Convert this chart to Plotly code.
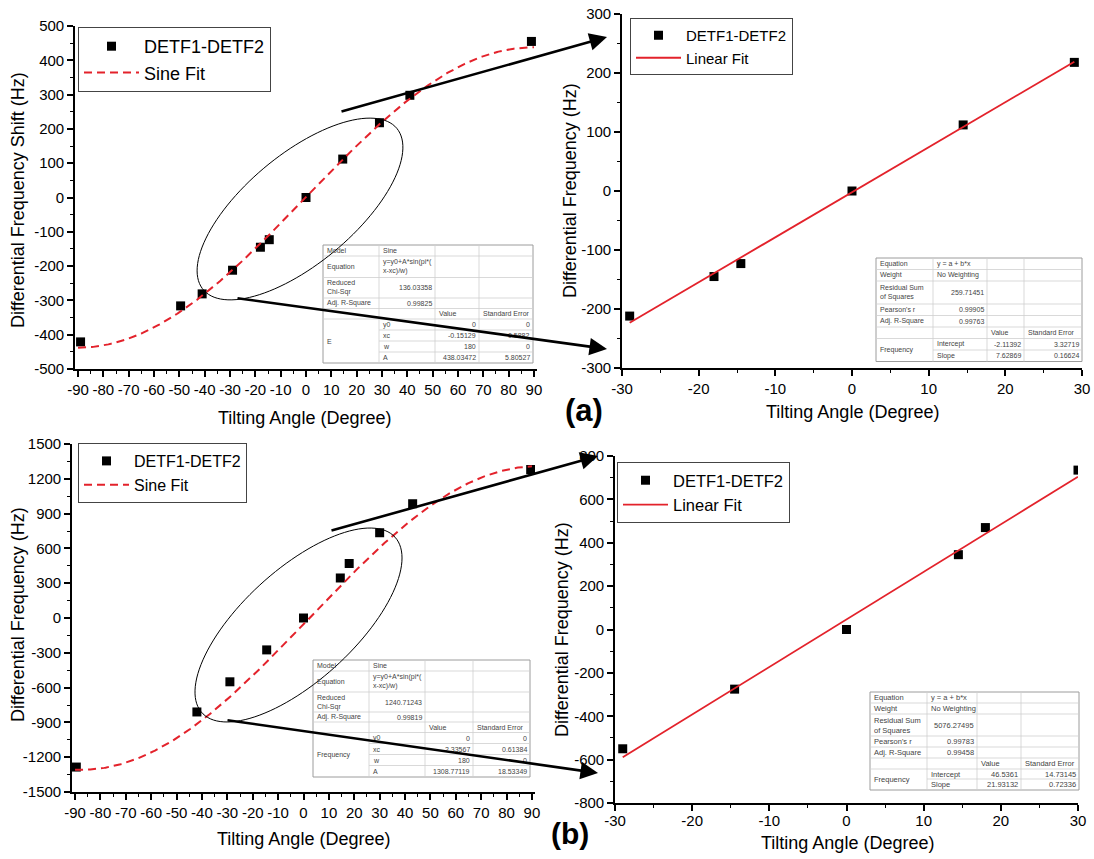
import numpy as np
import plotly.graph_objects as go

W, H = 1094, 859
FONT = "Liberation Sans, Arial, sans-serif"
RED = "#e3222b"

# ---------------- data ----------------
# panel (a) left : full sweep
angle_a = [-89, -49.5, -41, -29, -18, -14.5, 0, 14.5, 29, 41, 89]
shift_a = [-421, -316, -281, -212, -145, -123, 0, 112, 218, 298, 455]
# panel (a) right : linear zone
lin_angle_a = [-29, -18, -14.5, 0, 14.5, 29]
lin_freq_a = [-212, -145, -123, 0, 112, 218]

# panel (b) left : full sweep
angle_b = [-89.5, -42, -29, -14.5, 0, 14.5, 18, 30, 43, 89.5]
freq_b = [-1285, -810, -550, -275, 0, 345, 470, 735, 985, 1280]
# panel (b) right : linear zone
lin_angle_b = [-29, -14.5, 0, 14.5, 18, 30]
lin_freq_b = [-550, -275, 0, 345, 470, 735]

# fit parameters (from the fit tables)
sine_a = dict(y0=0.0, xc=-0.15129, w=180.0, A=438.03472)
sine_b = dict(y0=0.0, xc=2.33567, w=180.0, A=1308.77119)
lin_a = dict(a=-2.11392, b=7.62869)
lin_b = dict(a=46.5361, b=21.93132)

# tick values / labels
full_ticks = [-90, -80, -70, -60, -50, -40, -30, -20, -10, 0, 10, 20, 30, 40, 50, 60, 70, 80, 90]
lin_ticks = [-30, -20, -10, 0, 10, 20, 30]
ya_left_ticks = [-500, -400, -300, -200, -100, 0, 100, 200, 300, 400, 500]
ya_right_ticks = [-300, -200, -100, 0, 100, 200, 300]
yb_left_ticks = [-1500, -1200, -900, -600, -300, 0, 300, 600, 900, 1200, 1500]
yb_right_ticks = [-800, -600, -400, -200, 0, 200, 400, 600, 800]

# fit report tables
sine_top_labels = ["Model", "Equation", "Reduced<br>Chi-Sqr", "Adj. R-Square"]
sine_top_a = ["Sine", "y=y0+A*sin(pi*(<br>x-xc)/w)", "136.03358", "0.99825"]
sine_top_b = ["Sine", "y=y0+A*sin(pi*(<br>x-xc)/w)", "1240.71243", "0.99819"]
sine_par_names = ["y0", "xc", "w", "A"]
sine_val_a = ["0", "-0.15129", "180", "438.03472"]
sine_err_a = ["0", "0.5882", "0", "5.80527"]
sine_val_b = ["0", "2.33567", "180", "1308.77119"]
sine_err_b = ["0", "0.61384", "0", "18.53349"]
sine_group_a = "E"
sine_group_b = "Frequency"

lin_top_labels = ["Equation", "Weight", "Residual Sum<br>of Squares", "Pearson's r", "Adj. R-Square"]
lin_top_a = ["y = a + b*x", "No Weighting", "259.71451", "0.99905", "0.99763"]
lin_top_b = ["y = a + b*x", "No Weighting", "5076.27495", "0.99783", "0.99458"]
lin_par_names = ["Intercept", "Slope"]
lin_val_a = ["-2.11392", "7.62869"]
lin_err_a = ["3.32719", "0.16624"]
lin_val_b = ["46.5361", "21.93132"]
lin_err_b = ["14.73145", "0.72336"]

series_name = "DETF1-DETF2"
x_title = "Tilting Angle (Degree)"

# ---------------- helpers ----------------
def px(x):
    return x / W


def py(y):
    return 1 - y / H


shapes = []
annos = []


def seg(x0, y0, x1, y1, color, width):
    shapes.append(dict(type="line", xref="paper", yref="paper", x0=px(x0), y0=py(y0),
                       x1=px(x1), y1=py(y1), line=dict(color=color, width=width)))


def txt(x, y, s, size, anchor="left", color="#444", angle=0, bold=False):
    if bold:
        s = "<b>" + s + "</b>"
    annos.append(dict(xref="paper", yref="paper", x=px(x), y=py(y), text=s, showarrow=False,
                      xanchor=anchor, yanchor="middle", align=anchor if anchor != "center" else "center",
                      textangle=angle, borderpad=0,
                      font=dict(family=FONT, size=size, color=color)))


def draw_table(cols, rows, top_labels, top_vals, names, vals, errs, group, fsize, right_from):
    x0, x1 = cols[0], cols[-1]
    y0, y1 = rows[0], rows[-1]
    shapes.append(dict(type="rect", xref="paper", yref="paper", x0=px(x0), x1=px(x1),
                       y0=py(y1), y1=py(y0), fillcolor="white",
                       line=dict(color="#9c9c9c", width=1)))
    merge_row = len(top_labels) + 1
    for c in cols[1:-1]:
        seg(c, y0, c, y1, "#cfcfcf", 0.8)
    for i, r in enumerate(rows[1:-1], start=1):
        start = cols[1] if i > merge_row else cols[0]
        seg(start, r, x1, r, "#cfcfcf", 0.8)

    def cell(ri, ci, s, al):
        yc = (rows[ri] + rows[ri + 1]) / 2
        x = cols[ci] + 2.5 if al == "left" else cols[ci + 1] - 2.5
        txt(x, yc, s, fsize, al)

    for i, (lab, val) in enumerate(zip(top_labels, top_vals)):
        cell(i, 0, lab, "left")
        cell(i, 1, val, "right" if i >= right_from else "left")
    hr = len(top_labels)
    cell(hr, 2, "Value", "left")
    cell(hr, 3, "Standard Error", "left")
    for k, (n, v, e) in enumerate(zip(names, vals, errs)):
        r = merge_row + k
        cell(r, 1, n, "left")
        cell(r, 2, v, "right")
        cell(r, 3, e, "right")
    txt(cols[0] + 2.5, (rows[merge_row] + rows[-1]) / 2, group, fsize, "left")


def ellipse(cx, cy, a, b, theta_deg, n=120):
    t = np.linspace(0, 2 * np.pi, n)
    th = np.radians(theta_deg)
    xs = cx + a * np.cos(t) * np.cos(th) + b * np.sin(t) * np.sin(th)
    ys = cy - a * np.cos(t) * np.sin(th) + b * np.sin(t) * np.cos(th)
    path = "M " + " L ".join(f"{px(x):.5f},{py(y):.5f}" for x, y in zip(xs, ys)) + " Z"
    shapes.append(dict(type="path", xref="paper", yref="paper", path=path,
                       line=dict(color="black", width=1)))


def arrow(tx, ty, hx, hy):
    annos.append(dict(xref="paper", yref="paper", x=px(hx), y=py(hy), axref="pixel", ayref="pixel",
                      ax=tx - hx, ay=ty - hy, text="", showarrow=True, arrowhead=2,
                      arrowsize=1.35, arrowwidth=2.6, arrowcolor="black", standoff=0, startstandoff=0))


# ---------------- figure ----------------
fig = go.Figure()

marker = dict(symbol="square", size=9, color="black")
dash = "8px,5px"

# (a) left
fig.add_trace(go.Scatter(x=angle_a, y=shift_a, mode="markers", marker=marker, name=series_name,
                         xaxis="x", yaxis="y", legend="legend"))
xs = np.linspace(-90, 90, 361)
fig.add_trace(go.Scatter(x=xs, y=sine_a["y0"] + sine_a["A"] * np.sin(np.pi * (xs - sine_a["xc"]) / sine_a["w"]),
                         mode="lines", line=dict(color=RED, width=2, dash=dash), name="Sine Fit",
                         xaxis="x", yaxis="y", legend="legend"))
# (a) right
fig.add_trace(go.Scatter(x=lin_angle_a, y=lin_freq_a, mode="markers", marker=marker, name=series_name,
                         xaxis="x2", yaxis="y2", legend="legend2"))
lx = np.array([min(lin_angle_a), max(lin_angle_a)])
fig.add_trace(go.Scatter(x=lx, y=lin_a["a"] + lin_a["b"] * lx, mode="lines",
                         line=dict(color=RED, width=1.8), name="Linear Fit",
                         xaxis="x2", yaxis="y2", legend="legend2"))
# (b) left
fig.add_trace(go.Scatter(x=angle_b, y=freq_b, mode="markers", marker=marker, name=series_name,
                         xaxis="x3", yaxis="y3", legend="legend3"))
fig.add_trace(go.Scatter(x=xs, y=sine_b["y0"] + sine_b["A"] * np.sin(np.pi * (xs - sine_b["xc"]) / sine_b["w"]),
                         mode="lines", line=dict(color=RED, width=2, dash=dash), name="Sine Fit",
                         xaxis="x3", yaxis="y3", legend="legend3"))
# (b) right
fig.add_trace(go.Scatter(x=lin_angle_b, y=lin_freq_b, mode="markers", marker=marker, name=series_name,
                         xaxis="x4", yaxis="y4", legend="legend4"))
lx = np.array([min(lin_angle_b), max(lin_angle_b)])
fig.add_trace(go.Scatter(x=lx, y=lin_b["a"] + lin_b["b"] * lx, mode="lines",
                         line=dict(color=RED, width=1.8), name="Linear Fit",
                         xaxis="x4", yaxis="y4", legend="legend4"))


def axis(dom, rng, ticks, minor, anchor, horizontal):
    return dict(domain=[px(dom[0]), px(dom[1])] if horizontal else [py(dom[1]), py(dom[0])],
                range=rng, tickmode="array", tickvals=ticks, ticktext=[str(t) for t in ticks],
                tickangle=0, anchor=anchor, showline=True, linecolor="black", automargin=False,
                linewidth=1.6, ticks="outside", ticklen=6, tickwidth=1.6, tickcolor="black",
                showgrid=False, zeroline=False, fixedrange=True,
                tickfont=dict(family=FONT, size=15, color="black"),
                minor=dict(tickmode="linear", tick0=0, dtick=minor, ticks="outside", ticklen=3.5,
                           tickwidth=1.4, tickcolor="black", showgrid=False))


layout = dict(
    width=W, height=H, margin=dict(l=0, r=0, t=0, b=0, autoexpand=False),
    paper_bgcolor="white", plot_bgcolor="white",
    font=dict(family=FONT, color="black"),
    xaxis=axis((75, 537), [-91.2, 91.2], full_ticks, 5, "y", True),
    yaxis=axis((26, 369), [-500, 500], ya_left_ticks, 50, "x", False),
    xaxis2=axis((622, 1082), [-30, 30], lin_ticks, 5, "y2", True),
    yaxis2=axis((14, 368), [-300, 300], ya_right_ticks, 50, "x2", False),
    xaxis3=axis((72, 535), [-91.2, 91.2], full_ticks, 5, "y3", True),
    yaxis3=axis((444, 792), [-1500, 1500], yb_left_ticks, 150, "x3", False),
    xaxis4=axis((615, 1078), [-30, 30], lin_ticks, 5, "y4", True),
    yaxis4=axis((456, 803), [-800, 800], yb_right_ticks, 100, "x4", False),
)
layout["xaxis4"]["ticklabelstandoff"] = -3


def legend(x, y, size, iw):
    return dict(x=px(x), y=py(y), xanchor="left", yanchor="top", bordercolor="#444", borderwidth=1,
                bgcolor="white", font=dict(family=FONT, size=size, color="black"), itemwidth=iw,
                tracegroupgap=0)


layout["legend"] = legend(78, 27, 18, 55)
layout["legend2"] = legend(630, 18, 15, 45)
layout["legend3"] = legend(78, 443, 16, 45)
layout["legend4"] = legend(617, 462, 16.5, 45)

# tables
draw_table([323, 379, 435, 479, 533], [245, 256, 277.5, 298, 308.5, 319, 330, 341, 352, 363],
           sine_top_labels, sine_top_a, sine_par_names, sine_val_a, sine_err_a, sine_group_a, 7, 2)
draw_table([313, 369, 425, 473, 530], [660, 671, 692, 712, 722, 732.5, 743.5, 754.5, 765.5, 777],
           sine_top_labels, sine_top_b, sine_par_names, sine_val_b, sine_err_b, sine_group_b, 7, 2)
draw_table([876, 933, 987, 1024, 1082], [258, 269.5, 281, 304, 315.5, 327, 338.5, 350, 361.5],
           lin_top_labels, lin_top_a, lin_par_names, lin_val_a, lin_err_a, "Frequency", 7, 2)
draw_table([870, 927, 977, 1021, 1079], [692, 703, 714, 736, 747, 758, 769, 779, 790],
           lin_top_labels, lin_top_b, lin_par_names, lin_val_b, lin_err_b, "Frequency", 7.5, 2)

# ellipses marking the linear zone
ellipse(300, 209, 126, 54.5, 39.8)
ellipse(298.5, 625, 130.5, 55.6, 42.3)

# axis titles
txt(305, 418, x_title, 18, "center", "black")
txt(852, 412, x_title, 18, "center", "black")
txt(303, 839, x_title, 18, "center", "black")
txt(847, 843, x_title, 18, "center", "black")
txt(18, 200, "Differential Frequency Shift (Hz)", 18, "center", "black", -90)
txt(570, 191, "Differential Frequency (Hz)", 18, "center", "black", -90)
txt(18, 615, "Differential Frequency (Hz)", 18, "center", "black", -90)
txt(562, 630, "Differential Frequency (Hz)", 18, "center", "black", -90)

# panel labels
txt(584, 410, "(a)", 31, "center", "black", bold=True)
txt(570, 833, "(b)", 30, "center", "black", bold=True)

# zoom arrows
arrow(340, 112, 607, 37)
arrow(236, 298, 607, 349)
arrow(330, 531, 598, 456)
arrow(226, 720, 598, 773)

layout["shapes"] = shapes
layout["annotations"] = annos
fig.update_layout(**layout)
fig.write_html("out.html", config={"displayModeBar": False},
               post_script="document.body.style.margin='0';document.body.style.padding='0';"
                           "document.documentElement.style.overflow='hidden';")
